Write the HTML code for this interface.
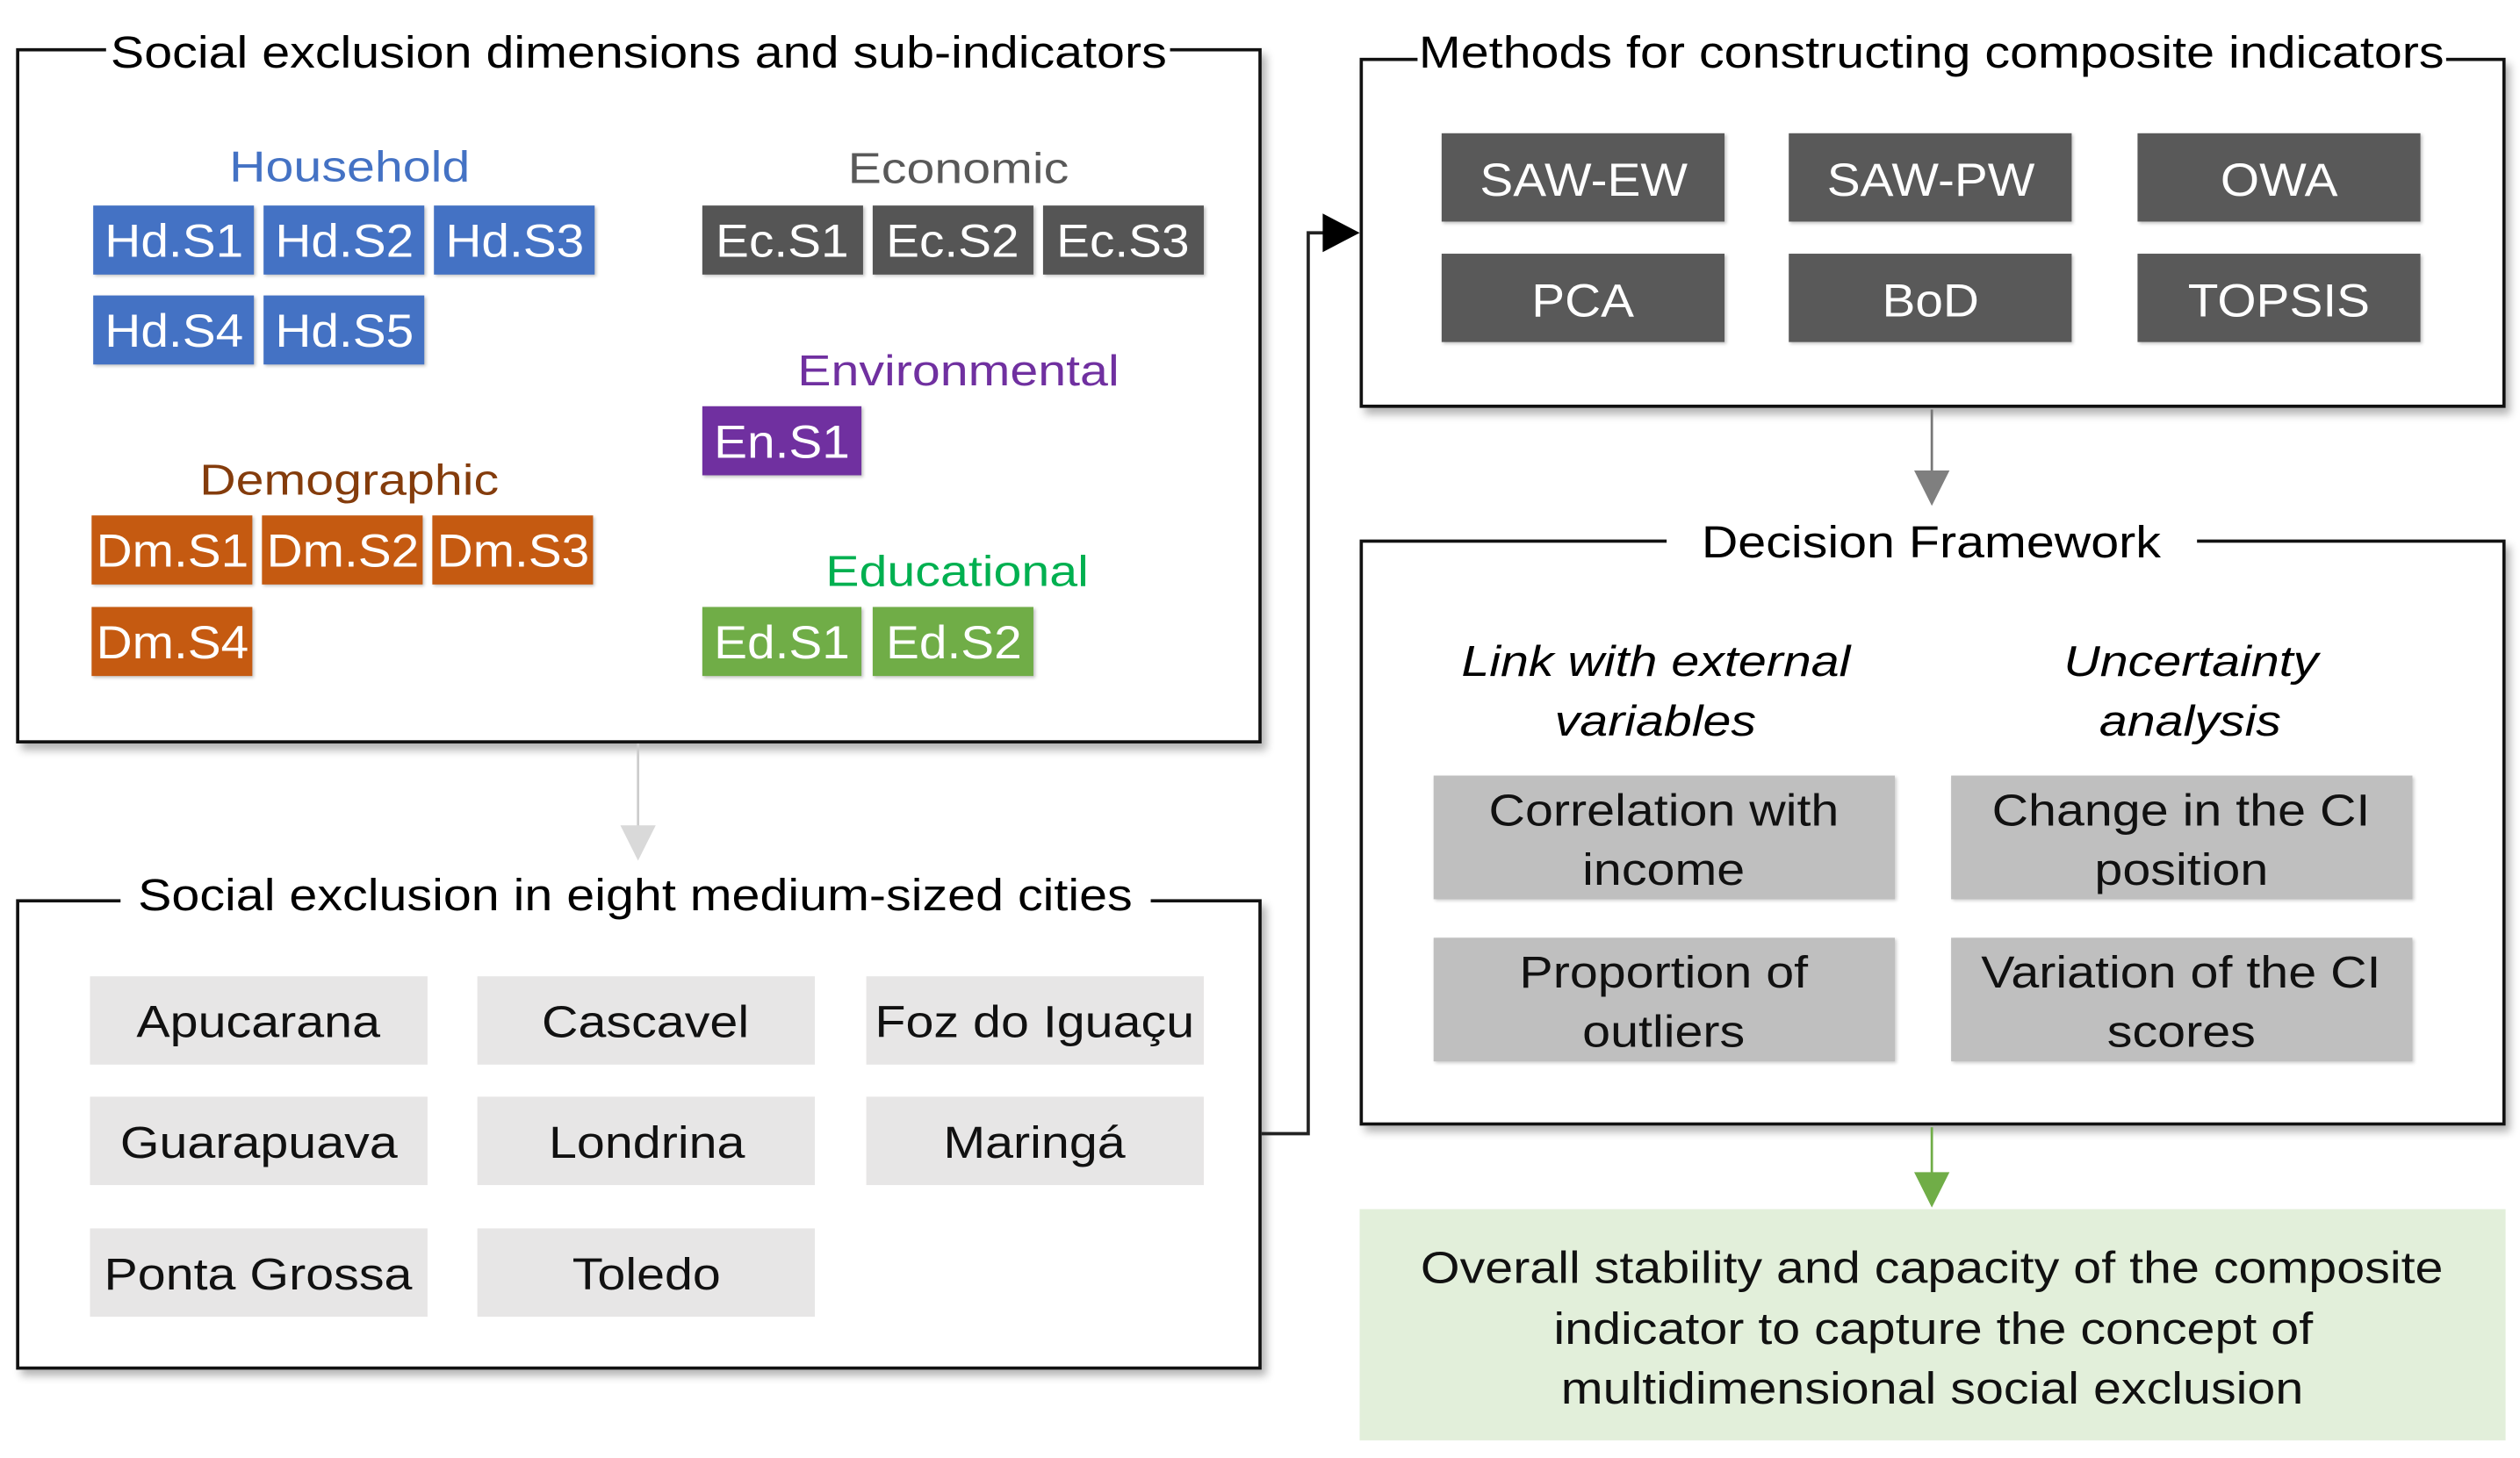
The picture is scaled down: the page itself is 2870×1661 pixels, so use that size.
<!DOCTYPE html>
<html><head><meta charset="utf-8"><style>
html,body{margin:0;padding:0;background:#fff;width:2870px;height:1661px;overflow:hidden}
#w{position:absolute;left:0;top:0;width:1568px;height:908px;transform:scale(1.8304,1.8293);transform-origin:0 0;font-family:"Liberation Sans",Arial,sans-serif}
.box{position:absolute;border:2.5px solid #111;box-shadow:3px 4px 5px rgba(0,0,0,.3);box-sizing:border-box}
.t{position:absolute;background:#fff;font-size:28px;color:#000;white-space:nowrap;text-align:center;line-height:32px}
.t span{display:inline-block;transform:scaleX(1.12)}
.c{position:absolute;color:#fff;font-size:29px;text-align:center;white-space:nowrap;box-shadow:1px 1px 2px rgba(0,0,0,.25)}
.c span{display:inline-block;transform:scaleX(1.07);position:relative;top:2px}
.l{position:absolute;font-size:27px;text-align:center;white-space:nowrap;line-height:30px}
.l span{display:inline-block;transform:scaleX(1.16)}
.g{position:absolute;background:#e7e6e6;font-size:28px;text-align:center;color:#111;white-space:nowrap}
.g span,.d span,.gr span{display:inline-block;transform:scaleX(1.12)}
.d{position:absolute;background:#bfbfbf;font-size:28px;text-align:center;color:#111;line-height:37px;box-shadow:1px 1px 2px rgba(0,0,0,.2)}
</style></head><body><div id="w">
<!-- box1 -->
<div class="box" style="left:10px;top:30px;width:775px;height:433px"></div>
<div class="t" style="left:66px;top:17px;width:662px"><span>Social exclusion dimensions and sub-indicators</span></div>
<div class="l" style="left:118px;top:89px;width:200px;color:#4472c4"><span>Household</span></div>
<div class="c" style="left:58px;top:128px;width:100px;height:43px;line-height:43px;background:#4472c4"><span>Hd.S1</span></div>
<div class="c" style="left:164px;top:128px;width:100px;height:43px;line-height:43px;background:#4472c4"><span>Hd.S2</span></div>
<div class="c" style="left:270px;top:128px;width:100px;height:43px;line-height:43px;background:#4472c4"><span>Hd.S3</span></div>
<div class="c" style="left:58px;top:184px;width:100px;height:43px;line-height:43px;background:#4472c4"><span>Hd.S4</span></div>
<div class="c" style="left:164px;top:184px;width:100px;height:43px;line-height:43px;background:#4472c4"><span>Hd.S5</span></div>
<div class="l" style="left:496px;top:90px;width:200px;color:#595959"><span>Economic</span></div>
<div class="c" style="left:437px;top:128px;width:100px;height:43px;line-height:43px;background:#555"><span>Ec.S1</span></div>
<div class="c" style="left:543px;top:128px;width:100px;height:43px;line-height:43px;background:#555"><span>Ec.S2</span></div>
<div class="c" style="left:649px;top:128px;width:100px;height:43px;line-height:43px;background:#555"><span>Ec.S3</span></div>
<div class="l" style="left:476px;top:216px;width:240px;color:#7030a0"><span>Environmental</span></div>
<div class="c" style="left:437px;top:253px;width:99px;height:43px;line-height:43px;background:#7030a0"><span>En.S1</span></div>
<div class="l" style="left:107px;top:284px;width:220px;color:#843c0c"><span>Demographic</span></div>
<div class="c" style="left:57px;top:321px;width:100px;height:43px;line-height:43px;background:#c55a11"><span>Dm.S1</span></div>
<div class="c" style="left:163px;top:321px;width:100px;height:43px;line-height:43px;background:#c55a11"><span>Dm.S2</span></div>
<div class="c" style="left:269px;top:321px;width:100px;height:43px;line-height:43px;background:#c55a11"><span>Dm.S3</span></div>
<div class="c" style="left:57px;top:378px;width:100px;height:43px;line-height:43px;background:#c55a11"><span>Dm.S4</span></div>
<div class="l" style="left:486px;top:341px;width:220px;color:#00b050"><span>Educational</span></div>
<div class="c" style="left:437px;top:378px;width:99px;height:43px;line-height:43px;background:#70ad47"><span>Ed.S1</span></div>
<div class="c" style="left:543px;top:378px;width:100px;height:43px;line-height:43px;background:#70ad47"><span>Ed.S2</span></div>
<!-- box2 -->
<div class="box" style="left:10px;top:560px;width:775px;height:293px"></div>
<div class="t" style="left:75px;top:542px;width:641px"><span>Social exclusion in eight medium-sized cities</span></div>
<div class="g" style="left:56px;top:608px;width:210px;height:55px;line-height:58px"><span>Apucarana</span></div>
<div class="g" style="left:297px;top:608px;width:210px;height:55px;line-height:58px"><span>Cascavel</span></div>
<div class="g" style="left:539px;top:608px;width:210px;height:55px;line-height:58px"><span>Foz do Iguaçu</span></div>
<div class="g" style="left:56px;top:683px;width:210px;height:55px;line-height:58px"><span>Guarapuava</span></div>
<div class="g" style="left:297px;top:683px;width:210px;height:55px;line-height:58px"><span>Londrina</span></div>
<div class="g" style="left:539px;top:683px;width:210px;height:55px;line-height:58px"><span>Maringá</span></div>
<div class="g" style="left:56px;top:765px;width:210px;height:55px;line-height:58px"><span>Ponta Grossa</span></div>
<div class="g" style="left:297px;top:765px;width:210px;height:55px;line-height:58px"><span>Toledo</span></div>
<!-- box3 -->
<div class="box" style="left:846px;top:36px;width:713px;height:218px"></div>
<div class="t" style="left:882px;top:17px;width:640px"><span>Methods for constructing composite indicators</span></div>
<div class="c" style="left:897px;top:83px;width:176px;height:55px;line-height:57px;background:#595959"><span>SAW-EW</span></div>
<div class="c" style="left:1113px;top:83px;width:176px;height:55px;line-height:57px;background:#595959"><span>SAW-PW</span></div>
<div class="c" style="left:1330px;top:83px;width:176px;height:55px;line-height:57px;background:#595959"><span>OWA</span></div>
<div class="c" style="left:897px;top:158px;width:176px;height:55px;line-height:57px;background:#595959"><span>PCA</span></div>
<div class="c" style="left:1113px;top:158px;width:176px;height:55px;line-height:57px;background:#595959"><span>BoD</span></div>
<div class="c" style="left:1330px;top:158px;width:176px;height:55px;line-height:57px;background:#595959"><span>TOPSIS</span></div>
<!-- box4 -->
<div class="box" style="left:846px;top:336px;width:713px;height:365px"></div>
<div class="t" style="left:1037px;top:322px;width:330px"><span>Decision Framework</span></div>
<div class="l" style="left:880px;top:394px;width:300px;font-style:italic;line-height:37px"><span>Link with external</span><br><span>variables</span></div>
<div class="l" style="left:1213px;top:394px;width:300px;font-style:italic;line-height:37px"><span>Uncertainty</span><br><span>analysis</span></div>
<div class="d" style="left:892px;top:483px;width:287px;height:77px;padding-top:3px;box-sizing:border-box"><span>Correlation with</span><br><span>income</span></div>
<div class="d" style="left:1214px;top:483px;width:287px;height:77px;padding-top:3px;box-sizing:border-box"><span>Change in the CI</span><br><span>position</span></div>
<div class="d" style="left:892px;top:584px;width:287px;height:77px;padding-top:3px;box-sizing:border-box"><span>Proportion of</span><br><span>outliers</span></div>
<div class="d" style="left:1214px;top:584px;width:287px;height:77px;padding-top:3px;box-sizing:border-box"><span>Variation of the CI</span><br><span>scores</span></div>
<!-- green -->
<div class="gr" style="position:absolute;left:846px;top:753px;width:713px;height:144px;background:#e2efda;font-size:28px;text-align:center;line-height:37.5px;padding-top:18px;box-sizing:border-box;color:#111"><span>Overall stability and capacity of the composite</span><br><span>indicator to capture the concept of</span><br><span>multidimensional social exclusion</span></div>
<!-- connectors -->
<svg style="position:absolute;left:0;top:0" width="1568" height="908">
<line x1="397" y1="463" x2="397" y2="518" stroke="#ccc" stroke-width="1.5"/>
<polygon points="386,514 408,514 397,536" fill="#d9d9d9"/>
<polyline points="785,706 814,706 814,145 826,145" fill="none" stroke="#222" stroke-width="2"/>
<polygon points="823,133 823,157 846,145" fill="#000"/>
<line x1="1202" y1="255" x2="1202" y2="296" stroke="#777" stroke-width="1.5"/>
<polygon points="1191,293 1213,293 1202,315" fill="#7f7f7f"/>
<line x1="1202" y1="702" x2="1202" y2="734" stroke="#70ad47" stroke-width="1.5"/>
<polygon points="1191,730 1213,730 1202,752" fill="#70ad47"/>
</svg>
</div></body></html>
